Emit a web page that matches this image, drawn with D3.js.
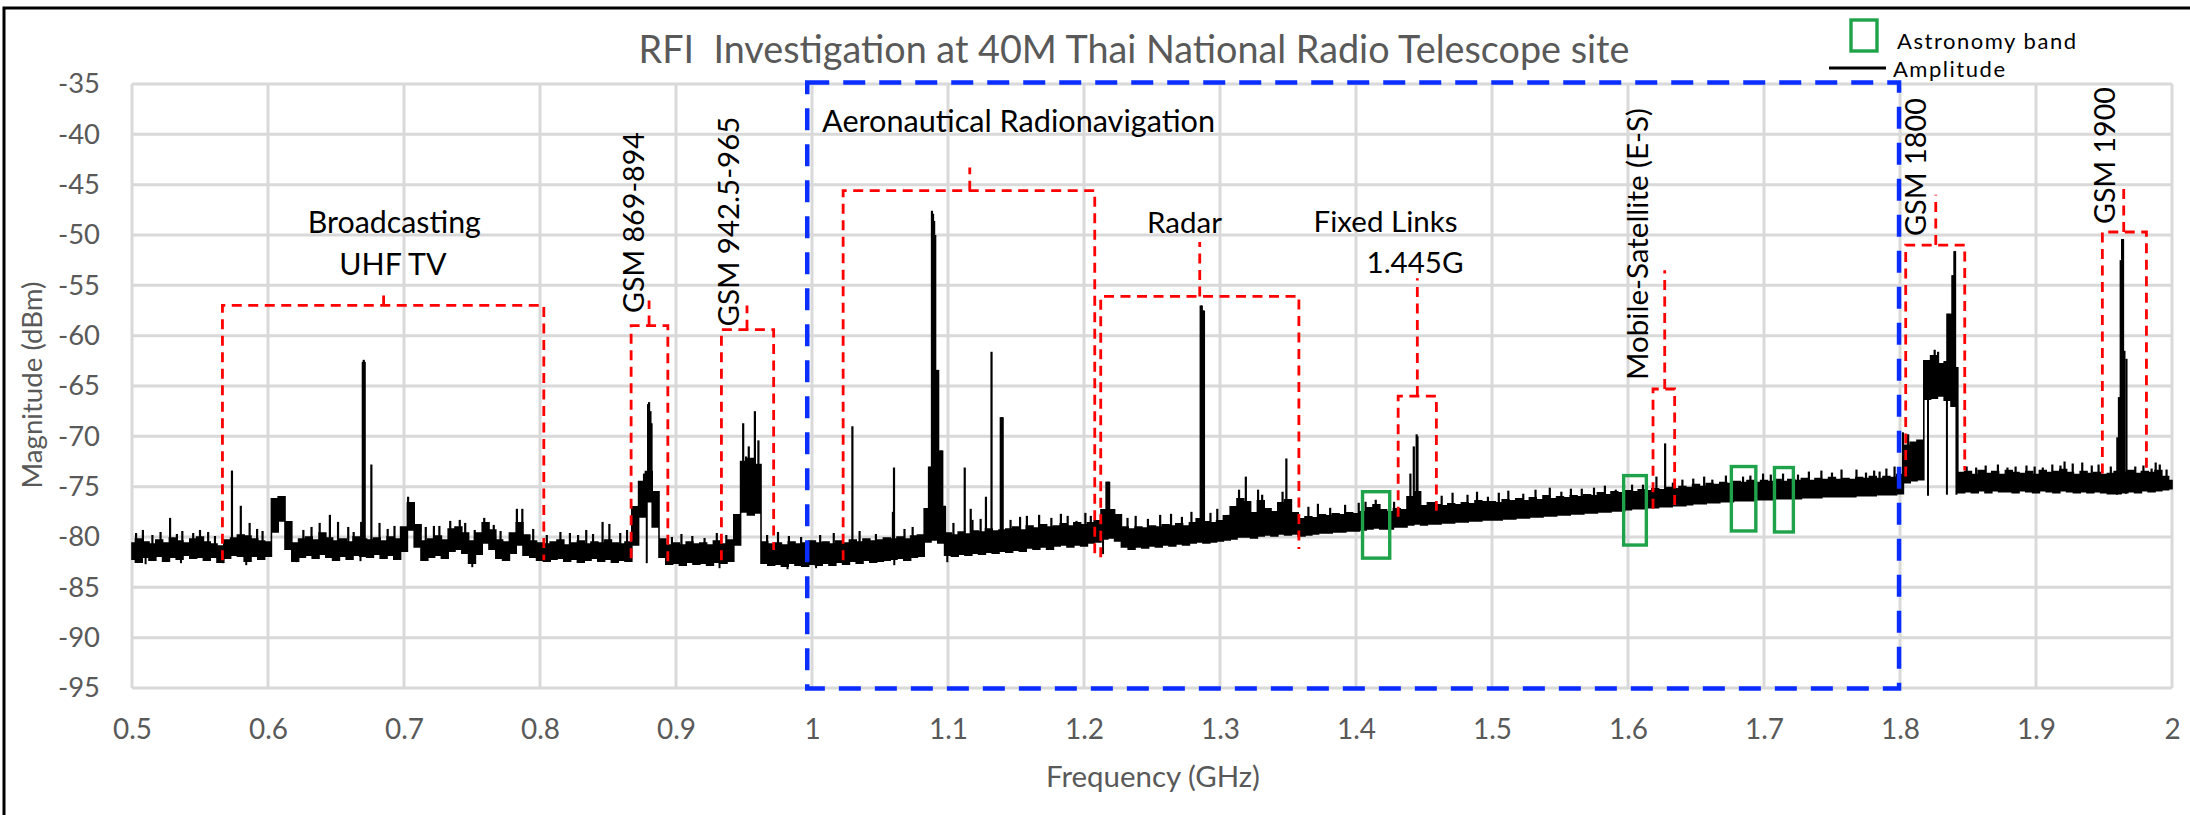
<!DOCTYPE html>
<html>
<head>
<meta charset="utf-8">
<script src="https://cdn.jsdelivr.net/npm/d3@7"></script>
<style>
body { margin: 0; background: #fff; }
text { font-family: Lato, "Open Sans", sans-serif; }
</style>
</head>
<body>
<svg width="2190" height="815"></svg>
<script>
// ---- data ----
var xTicks = [0.5, 0.6, 0.7, 0.8, 0.9, 1.0, 1.1, 1.2, 1.3, 1.4, 1.5, 1.6, 1.7, 1.8, 1.9, 2.0];
var yTicks = [-35, -40, -45, -50, -55, -60, -65, -70, -75, -80, -85, -90, -95];

// noise floor envelope, one value every 5 MHz from 0.5 GHz
var FREQ_START = 0.5, FREQ_STEP = 0.005;
var floorHi = [
  -80.6,-80.2,-80.5,-80.7,-80.3,-80.6,-80.1,-80.4,-80.6,-80.2,
  -80.0,-80.5,-80.7,-80.9,-80.3,-80.1,-79.8,-79.9,-80.2,-80.4,
  -80.5,-76.2,-76.0,-78.5,-80.6,-80.2,-80.0,-80.3,-79.6,-80.1,
  -80.4,-80.2,-80.5,-80.0,-80.2,-80.3,-80.1,-80.4,-80.0,-80.2,
  -79.0,-76.6,-78.8,-80.4,-80.2,-79.9,-80.3,-79.2,-79.0,-79.6,
  -80.4,-79.6,-78.6,-79.3,-80.3,-80.5,-79.6,-78.6,-79.8,-80.4,
  -80.6,-80.7,-80.5,-80.3,-80.8,-80.6,-80.4,-80.7,-80.5,-80.6,
  -80.3,-80.6,-80.7,-80.5,-77.0,-74.5,-73.5,-75.5,-80.2,-80.8,
  -80.6,-80.8,-80.5,-80.7,-80.6,-80.8,-80.4,-80.7,-80.3,-77.8,
  -72.5,-72.2,-72.8,-80.5,-80.7,-80.6,-80.8,-80.5,-80.7,-80.6,
  -80.4,-80.6,-80.5,-80.7,-80.4,-80.6,-80.3,-80.5,-80.2,-80.4,
  -80.3,-80.1,-80.2,-80.0,-80.2,-79.9,-79.8,-77.2,-77.2,-77.2,
  -79.6,-79.8,-79.5,-79.7,-79.4,-79.5,-79.2,-79.4,-79.3,-79.2,
  -79.0,-79.3,-78.9,-79.1,-78.8,-79.0,-78.9,-78.7,-78.9,-78.6,
  -78.8,-78.6,-78.4,-77.3,-77.3,-77.8,-79.0,-79.2,-79.0,-79.1,
  -78.9,-79.0,-78.8,-78.9,-78.7,-78.9,-78.6,-78.2,-78.5,-78.6,
  -78.4,-77.9,-77.0,-76.2,-76.5,-77.6,-76.4,-77.2,-77.5,-76.6,
  -76.3,-77.6,-78.2,-78.0,-78.1,-77.8,-77.9,-77.7,-77.8,-77.6,
  -77.7,-77.5,-77.1,-76.8,-77.3,-77.5,-77.2,-77.3,-76.0,-75.5,
  -76.9,-76.6,-76.8,-76.9,-76.7,-76.8,-76.6,-76.7,-76.4,-76.5,
  -76.5,-76.6,-76.3,-76.4,-76.2,-76.4,-76.1,-76.3,-75.9,-76.2,
  -76.0,-76.1,-75.9,-76.0,-75.8,-75.9,-75.6,-75.8,-75.5,-75.6,
  -75.4,-75.5,-75.3,-75.4,-75.2,-75.3,-75.1,-75.2,-75.0,-75.1,
  -74.8,-75.0,-74.7,-74.8,-74.6,-74.7,-74.5,-74.6,-74.4,-74.6,
  -74.4,-74.5,-74.3,-74.5,-74.3,-74.4,-74.2,-74.4,-74.2,-74.3,
  -74.1,-74.3,-74.2,-74.3,-74.1,-74.2,-74.0,-74.2,-74.0,-74.1,
  -73.8,-70.9,-70.6,-70.4,-62.5,-62.0,-62.8,-62.6,-63.2,-73.6,
  -73.5,-73.8,-73.4,-73.7,-73.5,-73.8,-73.4,-73.6,-73.7,-73.5,
  -73.8,-73.4,-73.6,-73.5,-73.3,-73.6,-73.8,-73.5,-73.7,-73.6,
  -73.8,-73.7,-73.5,-73.6,-73.4,-73.7,-73.5,-73.6,-73.4,-74.0,
  -74.4
];
var floorLo = [
  -82.2,-82.5,-82.0,-82.3,-81.9,-82.4,-82.0,-82.2,-81.8,-82.1,
  -82.0,-82.3,-82.0,-82.5,-82.1,-81.8,-81.9,-82.4,-81.9,-82.2,
  -81.9,-79.5,-78.4,-81.2,-82.4,-82.0,-81.8,-82.1,-81.7,-82.0,
  -82.3,-81.9,-82.2,-81.8,-81.9,-82.0,-81.7,-82.1,-81.8,-82.2,
  -81.4,-79.3,-81.0,-82.3,-82.0,-81.8,-82.1,-81.4,-81.2,-81.6,
  -82.6,-81.7,-80.6,-81.2,-82.1,-82.3,-81.6,-80.8,-81.8,-82.0,
  -82.3,-82.4,-82.2,-82.1,-82.4,-82.2,-82.5,-82.3,-82.1,-82.4,
  -82.2,-82.5,-82.3,-82.4,-80.8,-78.0,-76.5,-79.0,-82.0,-82.7,
  -82.6,-82.8,-82.5,-82.7,-82.6,-82.8,-82.5,-82.6,-82.4,-80.8,
  -77.5,-77.8,-77.6,-82.6,-82.8,-82.7,-82.9,-82.6,-82.8,-82.9,
  -82.7,-82.8,-82.6,-82.8,-82.5,-82.7,-82.4,-82.6,-82.3,-82.5,
  -82.4,-82.3,-82.2,-82.1,-82.3,-82.0,-81.9,-80.5,-80.3,-80.6,
  -81.8,-81.9,-81.7,-81.8,-81.6,-81.7,-81.5,-81.6,-81.4,-81.5,
  -81.3,-81.4,-81.1,-81.2,-81.0,-81.2,-80.9,-80.8,-81.0,-80.8,
  -80.9,-80.6,-80.5,-80.2,-80.1,-80.4,-81.0,-81.2,-81.0,-81.1,
  -80.9,-81.0,-80.8,-80.9,-80.7,-80.8,-80.6,-80.5,-80.6,-80.5,
  -80.4,-80.3,-80.2,-80.0,-80.0,-80.1,-79.9,-79.8,-79.9,-79.7,
  -79.8,-79.7,-79.9,-79.8,-79.7,-79.6,-79.6,-79.5,-79.5,-79.4,
  -79.4,-79.3,-79.2,-79.1,-79.2,-79.2,-79.0,-79.0,-78.8,-78.7,
  -78.8,-78.7,-78.7,-78.6,-78.6,-78.5,-78.5,-78.4,-78.4,-78.3,
  -78.3,-78.3,-78.2,-78.2,-78.1,-78.1,-78.0,-78.0,-77.9,-77.9,
  -77.8,-77.8,-77.7,-77.7,-77.6,-77.6,-77.5,-77.5,-77.4,-77.4,
  -77.3,-77.2,-77.2,-77.1,-77.1,-77.0,-77.0,-76.9,-76.9,-76.8,
  -76.7,-76.7,-76.6,-76.6,-76.5,-76.5,-76.4,-76.4,-76.4,-76.3,
  -76.3,-76.3,-76.2,-76.2,-76.2,-76.2,-76.1,-76.1,-76.1,-76.0,
  -76.0,-76.0,-76.0,-76.0,-75.9,-75.9,-75.9,-75.8,-75.8,-75.8,
  -75.7,-74.6,-74.4,-74.3,-66.3,-66.2,-66.0,-66.4,-67.0,-75.6,
  -75.5,-75.6,-75.4,-75.6,-75.4,-75.5,-75.5,-75.6,-75.4,-75.5,
  -75.6,-75.4,-75.5,-75.6,-75.4,-75.5,-75.6,-75.5,-75.6,-75.5,
  -75.6,-75.7,-75.7,-75.6,-75.5,-75.6,-75.4,-75.5,-75.4,-75.3,
  -75.2
];

// narrow spikes above the floor: [GHz, peak dBm]
var spikes = [
  [0.503,-79.6],[0.508,-79.3],[0.515,-79.8],[0.521,-79.5],[0.528,-78.1],[0.533,-79.7],[0.537,-79.4],
  [0.545,-79.6],[0.550,-79.3],[0.556,-79.5],[0.561,-79.9],[0.5735,-73.4],[0.580,-76.9],[0.5865,-78.6],
  [0.592,-79.2],[0.596,-79.4],[0.626,-79.3],[0.632,-79.0],[0.638,-78.6],[0.6455,-77.8],[0.6515,-78.5],
  [0.659,-79.0],[0.663,-79.5],[0.6685,-78.5],[0.6697,-62.6],[0.6704,-62.4],[0.6711,-62.6],[0.676,-72.8],
  [0.682,-78.6],[0.688,-79.2],[0.693,-78.9],[0.703,-76.0],[0.712,-79.5],[0.716,-79.0],[0.722,-78.9],
  [0.726,-78.9],[0.734,-78.4],[0.741,-78.3],[0.745,-78.6],[0.752,-79.3],[0.759,-78.1],[0.766,-78.8],
  [0.771,-79.4],[0.783,-77.2],[0.787,-77.2],[0.795,-79.2],[0.805,-79.8],[0.815,-79.5],[0.822,-79.6],
  [0.828,-79.8],[0.834,-79.3],[0.839,-79.7],[0.846,-78.5],[0.851,-78.7],[0.859,-79.6],[0.864,-79.3],
  [0.8765,-73.7],[0.878,-73.5],[0.8795,-66.8],[0.8802,-66.6],[0.8812,-67.5],[0.882,-68.7],
  [0.897,-80.0],[0.904,-79.7],[0.912,-79.9],[0.921,-80.1],[0.930,-79.6],[0.937,-79.8],
  [0.9494,-68.7],[0.9515,-72.0],[0.9535,-71.0],[0.956,-72.5],[0.958,-67.5],[0.9606,-70.4],
  [0.967,-79.8],[0.975,-79.5],[0.983,-79.9],[0.992,-80.0],
  [1.006,-79.8],[1.016,-79.6],[1.0297,-69.0],[1.035,-79.4],[1.047,-79.7],[1.0595,-77.5],[1.0603,-73.1],
  [1.068,-79.2],[1.074,-79.0],[1.0860,-73.0],[1.0870,-73.0],[1.0882,-47.6],[1.0890,-47.9],[1.0898,-48.6],
  [1.0906,-50.0],[1.0920,-63.4],[1.0928,-63.4],[1.0940,-71.4],[1.0950,-71.4],[1.0958,-71.4],
  [1.0970,-76.9],[1.0978,-76.9],[1.104,-78.6],[1.1123,-73.1],[1.1167,-77.2],[1.118,-78.3],[1.124,-78.2],
  [1.1279,-76.0],[1.1320,-61.6],[1.1388,-68.1],[1.1395,-68.1],[1.1402,-68.1],[1.146,-78.3],[1.153,-78.0],
  [1.158,-77.9],[1.167,-77.8],[1.176,-78.1],[1.183,-77.7],[1.188,-77.9],[1.1945,-78.4],[1.201,-77.6],
  [1.205,-77.9],[1.2165,-74.5],[1.2175,-74.5],[1.2185,-74.5],[1.232,-78.1],[1.238,-77.9],[1.247,-78.2],
  [1.256,-77.8],[1.264,-77.7],[1.272,-78.0],[1.279,-77.5],[1.2847,-78.2],[1.2858,-57.0],[1.2866,-57.0],
  [1.2874,-57.5],[1.2882,-57.5],[1.293,-77.6],[1.298,-77.2],[1.3057,-77.8],[1.314,-75.3],[1.319,-74.0],
  [1.328,-75.3],[1.331,-75.8],[1.346,-75.5],[1.3488,-72.2],
  [1.365,-77.0],[1.372,-76.7],[1.381,-77.1],[1.392,-76.8],[1.402,-76.6],[1.407,-76.5],[1.4145,-76.3],
  [1.428,-76.5],[1.440,-73.7],[1.4425,-71.0],[1.4446,-69.8],[1.4452,-70.0],[1.4564,-76.6],[1.463,-75.9],
  [1.471,-75.6],[1.482,-75.8],[1.489,-75.5],[1.497,-76.0],[1.505,-75.6],[1.512,-75.4],[1.523,-75.7],
  [1.532,-75.3],[1.5425,-75.1],[1.551,-75.5],[1.558,-75.2],[1.566,-75.2],[1.575,-75.1],[1.583,-74.9],
  [1.591,-75.3],[1.603,-74.8],[1.611,-74.8],[1.6209,-74.0],[1.6273,-70.7],[1.633,-74.6],[1.640,-74.3],
  [1.648,-74.2],[1.656,-74.0],[1.662,-74.3],[1.672,-73.9],[1.6846,-74.0],[1.690,-73.9],[1.6993,-73.7],
  [1.705,-73.8],[1.714,-73.7],[1.725,-73.8],[1.733,-73.5],[1.7422,-73.4],[1.750,-73.6],[1.757,-73.3],
  [1.768,-73.3],[1.775,-73.6],[1.781,-73.4],[1.785,-73.5],[1.790,-73.2],[1.796,-73.0],
  [1.8022,-69.6],[1.8060,-69.8],[1.8255,-61.4],[1.8280,-61.6],[1.8348,-57.8],[1.8360,-57.8],
  [1.8375,-57.8],[1.8385,-54.0],[1.8393,-54.0],[1.8400,-51.6],[1.8405,-51.6],
  [1.849,-73.0],[1.856,-73.1],[1.863,-72.9],[1.872,-72.8],[1.879,-73.1],[1.885,-73.0],[1.893,-72.9],
  [1.899,-73.0],[1.905,-73.1],[1.912,-72.8],[1.918,-72.9],[1.921,-72.5],[1.927,-72.7],[1.934,-72.6],
  [1.941,-72.9],[1.946,-72.8],[1.955,-73.0],[1.9598,-70.1],[1.9610,-66.1],[1.9623,-52.5],[1.9633,-50.4],
  [1.9640,-50.4],[1.9650,-61.5],[1.9665,-62.3],[1.973,-73.0],[1.979,-72.9],[1.985,-73.2],[1.988,-72.6],
  [1.991,-72.8],[1.996,-73.3]
];
// narrow dips below the floor: [GHz, lowest dBm]
var dips = [
  [0.510,-82.7],[0.536,-82.6],[0.567,-82.6],[0.584,-82.8],[0.621,-82.5],[0.668,-82.4],[0.7502,-83.0],
  [0.8785,-82.6],[0.932,-83.1],[0.982,-83.2],[1.003,-83.1],[1.0605,-82.8],[1.0995,-82.5],[1.214,-81.7],
  [1.8206,-75.9],[1.8345,-75.8],[1.8415,-75.8],[1.9595,-75.8],[1.9662,-75.7]
];

// allocated bands (red dashed brackets): GHz range, top level, bottoms, tick position and top
var bandNames   = ["UHF TV", "GSM 869-894", "GSM 942.5-965", "Aero", "Radar", "Fixed", "MSS", "GSM 1800", "GSM 1900"];
var bandStart   = [0.5665, 0.867, 0.9334, 1.0229, 1.2123, 1.431, 1.6184, 1.8042, 1.9488];
var bandEnd     = [0.8028, 0.894, 0.9718, 1.2079, 1.358, 1.4591, 1.6343, 1.8476, 1.9812];
var bandTop     = [-57.0, -59.0, -59.4, -45.6, -56.1, -66.0, -65.3, -51.0, -49.7];
var bandLeftLo  = [-82.3, -82.1, -82.3, -82.3, -82.0, -78.0, -77.2, -74.0, -73.7];
var bandRightLo = [-82.3, -82.6, -81.3, -82.0, -81.2, -77.4, -77.2, -73.4, -73.4];
var bandTickF   = [0.685, 0.8802, 0.9522, 1.116, 1.2851, 1.4451, 1.627, 1.8263, 1.9645];
var bandTickTop = [-55.4, -56.5, -57.0, -43.3, -50.7, -54.3, -53.5, -46.0, -45.2];

// radio astronomy bands (green boxes)
var astroStart = [1.4048, 1.5968, 1.676, 1.7077];
var astroEnd   = [1.4248, 1.6135, 1.694, 1.7216];
var astroTop   = [-75.5, -73.9, -73.0, -73.1];
var astroBot   = [-82.1, -80.8, -79.4, -79.5];

// ---- layout ----
var svg = d3.select("svg"),
    margin = {top: 84, right: 18, bottom: 127, left: 132},
    width = +svg.attr("width") - margin.left - margin.right,
    height = +svg.attr("height") - margin.top - margin.bottom;

var x = d3.scaleLinear().domain([0.5, 2.0]).range([margin.left, margin.left + width]);
var y = d3.scaleLinear().domain([-35, -95]).range([margin.top, margin.top + height]);

var grey = "#595959";

// size a text so that it spans the given width
function fit(t, w) {
  var fs = parseFloat(t.style("font-size"));
  var len = t.node().getComputedTextLength();
  t.style("font-size", (fs * w / len).toFixed(2) + "px");
  return t;
}

// outer frame (cut on the right and bottom in the original)
svg.append("rect")
  .attr("x", 4).attr("y", 8)
  .attr("width", 2300).attr("height", 900)
  .attr("fill", "none").attr("stroke", "#000").attr("stroke-width", 3);

// gridlines
svg.append("g").selectAll("line").data(yTicks).enter().append("line")
  .attr("x1", x(0.5)).attr("x2", x(2.0))
  .attr("y1", function(d) { return y(d); }).attr("y2", function(d) { return y(d); })
  .attr("stroke", "#d9d9d9").attr("stroke-width", 3);
svg.append("g").selectAll("line").data(xTicks).enter().append("line")
  .attr("y1", y(-35)).attr("y2", y(-95))
  .attr("x1", function(d) { return x(d); }).attr("x2", function(d) { return x(d); })
  .attr("stroke", "#d9d9d9").attr("stroke-width", 3);

// axes (labels only)
var gx = svg.append("g")
  .attr("transform", "translate(0," + y(-95) + ")")
  .call(d3.axisBottom(x).tickValues(xTicks).tickSize(0)
    .tickFormat(function(d) { return String(+d.toFixed(1)); }));
var gy = svg.append("g")
  .attr("transform", "translate(" + x(0.5) + ",0)")
  .call(d3.axisLeft(y).tickValues(yTicks).tickSize(0).tickPadding(32)
    .tickFormat(function(d) { return String(d); }));
[gx, gy].forEach(function(g) {
  g.select(".domain").remove();
  g.selectAll("text").attr("fill", grey).style("font-size", "26px")
    .style("font-family", "Lato, 'Open Sans', sans-serif");
});
gx.selectAll("text").attr("y", 739 - y(-95)).attr("dy", 0);
// match the reference label widths ("0.5" and "-35")
var sx = 39 / gx.select("text").node().getComputedTextLength();
gx.selectAll("text").style("font-size", (26 * sx).toFixed(2) + "px");
var sy = 42 / gy.select("text").node().getComputedTextLength();
gy.selectAll("text").style("font-size", (26 * sy).toFixed(2) + "px");

fit(svg.append("text")
  .attr("transform", "translate(42,385) rotate(-90)")
  .attr("text-anchor", "middle").attr("fill", grey).style("font-size", "25px")
  .text("Magnitude (dBm)"), 207);
fit(svg.append("text")
  .attr("x", 1153).attr("y", 787)
  .attr("text-anchor", "middle").attr("fill", grey).style("font-size", "25px")
  .text("Frequency (GHz)"), 214);

// ---- amplitude trace ----
var floorData = floorHi.map(function(h, i) {
  return {f: FREQ_START + i * FREQ_STEP, hi: h, lo: floorLo[i]};
});
function floorAt(f) {
  var i = Math.max(0, Math.min(floorData.length - 1, Math.round((f - FREQ_START) / FREQ_STEP)));
  return floorData[i];
}

var band = d3.area()
  .x(function(d) { return x(d.f); })
  .y0(function(d) { return y(d.lo); })
  .y1(function(d) { return y(d.hi); })
  .curve(d3.curveStep);

var trace = svg.append("g");
trace.append("path")
  .datum(floorData)
  .attr("d", band)
  .attr("fill", "#000").attr("stroke", "#000").attr("stroke-width", 1.6);

trace.selectAll(".spike").data(spikes).enter().append("line")
  .attr("class", "spike")
  .attr("x1", function(d) { return x(d[0]); }).attr("x2", function(d) { return x(d[0]); })
  .attr("y1", function(d) { return y(floorAt(d[0]).hi); })
  .attr("y2", function(d) { return y(d[1]); })
  .attr("stroke", "#000").attr("stroke-width", 2.2);

trace.selectAll(".dip").data(dips).enter().append("line")
  .attr("class", "dip")
  .attr("x1", function(d) { return x(d[0]); }).attr("x2", function(d) { return x(d[0]); })
  .attr("y1", function(d) { return y(floorAt(d[0]).lo); })
  .attr("y2", function(d) { return y(d[1]); })
  .attr("stroke", "#000").attr("stroke-width", 2);

// ---- red dashed band brackets ----
var red = svg.append("g")
  .attr("fill", "none").attr("stroke", "#ff0000")
  .attr("stroke-width", 2.8).attr("stroke-dasharray", "10,6.5");
bandNames.forEach(function(n, i) {
  red.append("path").attr("d", d3.line()([
    [x(bandStart[i]), y(bandLeftLo[i])],
    [x(bandStart[i]), y(bandTop[i])],
    [x(bandEnd[i]), y(bandTop[i])],
    [x(bandEnd[i]), y(bandRightLo[i])]
  ]));
  red.append("path").attr("d", d3.line()([
    [x(bandTickF[i]), y(bandTop[i])],
    [x(bandTickF[i]), y(bandTickTop[i])]
  ]));
});

// ---- green astronomy boxes ----
svg.append("g").selectAll("rect").data(astroStart).enter().append("rect")
  .attr("x", function(d) { return x(d); })
  .attr("y", function(d, i) { return y(astroTop[i]); })
  .attr("width", function(d, i) { return x(astroEnd[i]) - x(d); })
  .attr("height", function(d, i) { return y(astroBot[i]) - y(astroTop[i]); })
  .attr("fill", "none").attr("stroke", "#1fa34a").attr("stroke-width", 3.4);

// ---- blue dashed L-band box ----
svg.append("rect")
  .attr("x", x(0.9965)).attr("y", y(-34.85))
  .attr("width", x(1.7993) - x(0.9965))
  .attr("height", y(-95.05) - y(-34.85))
  .attr("fill", "none").attr("stroke", "#0a2eff")
  .attr("stroke-width", 4.5).attr("stroke-dasharray", "22,14");

// ---- annotation text ----
var ann = svg.append("g").attr("fill", "#000").style("font-size", "28px");
function htext(f, db, s, w, anchor) {
  var t = ann.append("text").attr("x", x(f)).attr("y", y(db))
    .attr("text-anchor", anchor || "middle").text(s);
  return w ? fit(t, w) : t;
}
function vtext(f, db, s, w) {
  return fit(ann.append("text")
    .attr("transform", "translate(" + x(f) + "," + y(db) + ") rotate(-90)")
    .text(s), w);
}
var bc = htext(0.6929, -49.8, "Broadcasting", 173);
htext(0.6918, -53.97, "UHF TV").style("font-size", bc.style("font-size"));
htext(1.0074, -39.77, "Aeronautical Radionavigation", 393, "start");
htext(1.2739, -49.8, "Radar", 75);
htext(1.4217, -49.7, "Fixed Links", 144);
htext(1.4434, -53.77, "1.445G", 97);
vtext(0.8765, -57.75, "GSM 869-894", 181);
vtext(0.9463, -59.1, "GSM 942.5-965", 210);
vtext(1.6150, -64.4, "Mobile-Satellite (E-S)", 272);
vtext(1.8191, -50.1, "GSM 1800", 138);
vtext(1.9582, -48.9, "GSM 1900", 137);

// ---- title ----
fit(svg.append("text")
  .attr("x", 1134).attr("y", 63)
  .attr("text-anchor", "middle").attr("fill", grey).style("font-size", "34px")
  .style("white-space", "pre")
  .text("RFI  Investigation at 40M Thai National Radio Telescope site"), 991);

// ---- legend ----
var leg = svg.append("g").style("font-size", "22px").attr("fill", "#000");
leg.append("rect").attr("x", 1851).attr("y", 20).attr("width", 26).attr("height", 31)
  .attr("fill", "none").attr("stroke", "#1fa34a").attr("stroke-width", 3.4);
leg.append("text").attr("x", 1897).attr("y", 49)
  .attr("textLength", 179).attr("lengthAdjust", "spacing").text("Astronomy band");
leg.append("line").attr("x1", 1829).attr("x2", 1886).attr("y1", 68).attr("y2", 68)
  .attr("stroke", "#000").attr("stroke-width", 3.2);
leg.append("text").attr("x", 1893).attr("y", 77)
  .attr("textLength", 112).attr("lengthAdjust", "spacing").text("Amplitude");
</script>
</body>
</html>
